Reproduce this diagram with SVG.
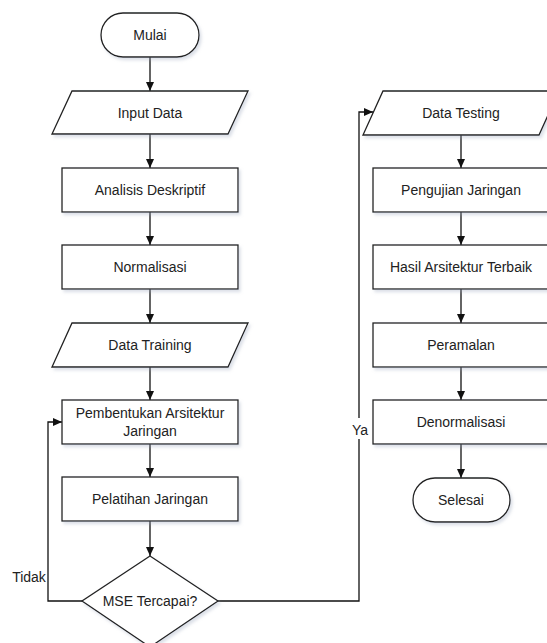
<svg xmlns="http://www.w3.org/2000/svg" width="547" height="643" viewBox="0 0 547 643">
<style>
.s{fill:#fff;stroke:#222;stroke-width:1.3;filter:url(#sh)}
.t{font-family:"Liberation Sans",Arial,sans-serif;font-size:14px;fill:#222;text-anchor:middle}
.c{fill:none;stroke:#111;stroke-width:1.3;marker-end:url(#ah)}
.l{fill:none;stroke:#111;stroke-width:1.3}
</style>
<defs>
<filter id="sh" x="-10%" y="-10%" width="130%" height="140%">
<feDropShadow dx="2" dy="2.5" stdDeviation="1.5" flood-color="#9aa6bd" flood-opacity="0.35"/>
</filter>
<marker id="ah" markerWidth="10" markerHeight="8" refX="9" refY="4" orient="auto" markerUnits="userSpaceOnUse">
<path d="M0,0 L9,4 L0,8 z" fill="#111"/>
</marker>
</defs>
<g id="connectors">
<path class="c" d="M150,57 V91"/>
<path class="c" d="M150,134 V168"/>
<path class="c" d="M150,212 V245"/>
<path class="c" d="M150,289 V323"/>
<path class="c" d="M150,367 V400"/>
<path class="c" d="M150,444 V477"/>
<path class="c" d="M150,521 V556"/>
<path class="c" d="M82,601 H48 V422 H62"/>
<path class="l" d="M218,601 H359 V439"/>
<path class="c" d="M359,418 V112 H373"/>
<path class="c" d="M461,135 V168"/>
<path class="c" d="M461,212 V245"/>
<path class="c" d="M461,289 V323"/>
<path class="c" d="M461,367 V400"/>
<path class="c" d="M461,444 V478"/>
<text class="t" x="29" y="582">Tidak</text>
<text class="t" x="360" y="435">Ya</text>
</g>
<g id="mulai"><rect class="s" x="101" y="13" width="98" height="44" rx="22"/><text class="t" x="150" y="40">Mulai</text></g>
<g id="input-data"><polygon class="s" points="72,91 248,91 228,134 52,134"/><text class="t" x="150" y="118">Input Data</text></g>
<g id="analisis"><rect class="s" x="62" y="168" width="176" height="44"/><text class="t" x="150" y="195">Analisis Deskriptif</text></g>
<g id="normalisasi"><rect class="s" x="62" y="245" width="176" height="44"/><text class="t" x="150" y="272">Normalisasi</text></g>
<g id="data-training"><polygon class="s" points="72,323 248,323 228,367 52,367"/><text class="t" x="150" y="350">Data Training</text></g>
<g id="pembentukan"><rect class="s" x="62" y="400" width="176" height="44"/><text class="t" x="150" y="418">Pembentukan Arsitektur</text><text class="t" x="150" y="436">Jaringan</text></g>
<g id="pelatihan"><rect class="s" x="62" y="477" width="176" height="44"/><text class="t" x="150" y="504">Pelatihan Jaringan</text></g>
<g id="mse"><polygon class="s" points="150,556 218,601 150,647 82,601"/><text class="t" x="150" y="606">MSE Tercapai?</text></g>
<g id="data-testing"><polygon class="s" points="383,91 559,91 539,135 363,135"/><text class="t" x="461" y="118">Data Testing</text></g>
<g id="pengujian"><rect class="s" x="373" y="168" width="176" height="44"/><text class="t" x="461" y="195">Pengujian Jaringan</text></g>
<g id="hasil"><rect class="s" x="373" y="245" width="176" height="44"/><text class="t" x="461" y="272">Hasil Arsitektur Terbaik</text></g>
<g id="peramalan"><rect class="s" x="373" y="323" width="176" height="44"/><text class="t" x="461" y="350">Peramalan</text></g>
<g id="denormalisasi"><rect class="s" x="373" y="400" width="176" height="44"/><text class="t" x="461" y="427">Denormalisasi</text></g>
<g id="selesai"><rect class="s" x="413" y="478" width="97" height="44" rx="22"/><text class="t" x="461" y="505">Selesai</text></g>
</svg>
